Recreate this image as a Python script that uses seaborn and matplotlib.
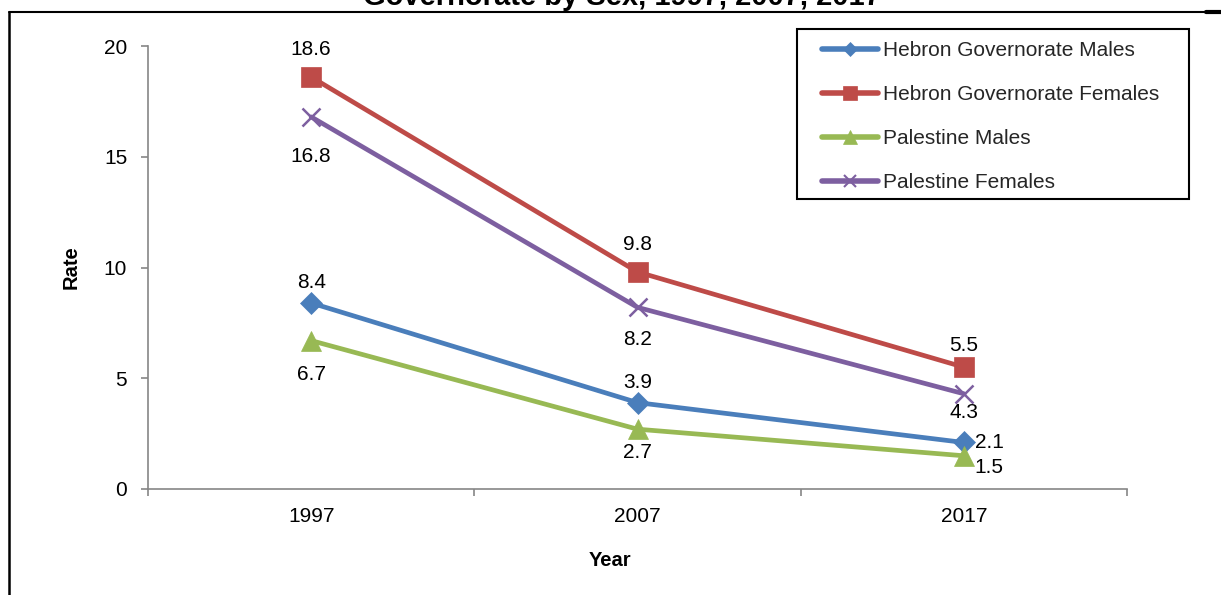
import matplotlib
matplotlib.use('Agg')
import matplotlib.pyplot as plt
import seaborn as sns
import pandas as pd
from matplotlib.lines import Line2D
from matplotlib.patches import Rectangle

# ---- data ----
years = ['1997', '2007', '2017']
series_names = ['Hebron Governorate Males', 'Hebron Governorate Females',
                'Palestine Males', 'Palestine Females']
hebron_males = [8.4, 3.9, 2.1]
hebron_females = [18.6, 9.8, 5.5]
palestine_males = [6.7, 2.7, 1.5]
palestine_females = [16.8, 8.2, 4.3]
y_ticks = [0, 5, 10, 15, 20]
title_text = 'Governorate by Sex, 1997, 2007, 2017'

all_values = [hebron_males, hebron_females, palestine_males, palestine_females]

# ---- styles ----
colors = ['#4A7EBB', '#BE4B48', '#98B954', '#7D5FA0']
markers = ['D', 's', '^', 'x']
msizes = [11, 14.5, 15, 12.5]
leg_msizes = [7, 10, 10, 8]
# label offsets in pixels per point (dx, dy, ha)
label_offsets = [
    [(0, 20, 'center'), (0, 20, 'center'), (11, 0, 'left')],
    [(0, 28, 'center'), (0, 27, 'center'), (0, 22, 'center')],
    [(0, -34, 'center'), (0, -23, 'center'), (11, -12, 'left')],
    [(0, -40, 'center'), (0, -32, 'center'), (0, -19, 'center')],
]

sns.set_theme(style='white')
plt.rcParams['font.family'] = ['Liberation Sans', 'DejaVu Sans']

W, H = 1221, 595
fig = plt.figure(figsize=(W / 100, H / 100), dpi=100)
fig.patch.set_facecolor('white')
ax = fig.add_axes([148 / W, 106 / H, 979 / W, 443 / H])

rows = []
for name, vals in zip(series_names, all_values):
    for yr, v in zip(years, vals):
        rows.append({'Year': yr, 'Rate': v, 'Series': name})
df = pd.DataFrame(rows)

for i, name in enumerate(series_names):
    sub = df[df['Series'] == name]
    kw = dict(markeredgecolor=colors[i])
    if markers[i] == 'x':
        kw['markeredgewidth'] = 1.8
    else:
        kw['markeredgewidth'] = 0.5
    sns.lineplot(data=sub, x='Year', y='Rate', ax=ax, color=colors[i],
                 marker=markers[i], markersize=msizes[i], linewidth=3.4,
                 legend=False, sort=False, zorder=3 + i, **kw)

# data labels
for i, vals in enumerate(all_values):
    for j, v in enumerate(vals):
        dx, dy, ha = label_offsets[i][j]
        ax.annotate(f'{v:.1f}', (j, v), xytext=(dx, dy), textcoords='offset pixels',
                    ha=ha, va='center', fontsize=15, color='black', zorder=10)

ax.set_xlim(-0.5, 2.5)
ax.set_ylim(0, 20)
ax.set_yticks(y_ticks)
ax.set_yticklabels([str(t) for t in y_ticks])
ax.set_xticks(range(len(years)))
ax.set_xticklabels(years)
ax.set_xticks([-0.5, 0.5, 1.5, 2.5], minor=True)

for s in ['top', 'right']:
    ax.spines[s].set_visible(False)
for s in ['left', 'bottom']:
    ax.spines[s].set_color('#868686')
    ax.spines[s].set_linewidth(1.2)

ax.tick_params(axis='x', which='major', bottom=True, length=0, pad=13, labelsize=15, labelcolor='black')
ax.tick_params(axis='x', which='minor', bottom=True, length=5, width=1.2, color='#868686', direction='out')
ax.tick_params(axis='y', which='major', left=True, length=5, width=1.2, color='#868686', direction='out', pad=10, labelsize=15, labelcolor='black')

ax.set_xlabel('Year', fontsize=14.5, fontweight='bold', color='black')
ax.set_ylabel('Rate', fontsize=14.5, fontweight='bold', color='black')
ax.xaxis.set_label_coords((610 - 148) / 979, (489 - 561) / 443)
ax.yaxis.set_label_coords((71 - 148) / 979, 0.5)
ax.xaxis.label.set_va('center')
ax.yaxis.label.set_va('center')
ax.grid(False)

# legend (frameless, with frame drawn separately)
handles = [Line2D([], [], color=colors[i], marker=markers[i], markersize=leg_msizes[i],
                  linewidth=4, markeredgecolor=colors[i],
                  markeredgewidth=1.5 if markers[i] == 'x' else 0.5)
           for i in range(len(series_names))]
leg = fig.legend(handles, series_names, loc='upper left',
                 bbox_to_anchor=(822 / W, 1 - 41 / H), frameon=False,
                 fontsize=15, handlelength=2.7, handletextpad=0.25,
                 labelspacing=1.2, borderpad=0, borderaxespad=0, numpoints=1)
fig.patches.append(Rectangle((797 / W, 1 - 199 / H), (1189 - 797) / W, (199 - 29) / H,
                             transform=fig.transFigure, fill=False, edgecolor='black',
                             linewidth=1.5, zorder=20))

# outer border lines
fig.add_artist(Line2D([9 / W, 9 / W], [0, 1 - 12 / H], transform=fig.transFigure, color='black', linewidth=1.8))
fig.add_artist(Line2D([9 / W, 1], [1 - 12 / H, 1 - 12 / H], transform=fig.transFigure, color='black', linewidth=1.5))
fig.add_artist(Line2D([1206 / W, 1], [1 - 12 / H, 1 - 12 / H], transform=fig.transFigure, color='black', linewidth=3))

# title (cut off at the top, as in the reference)
fig.text(622 / W, 1 - 5 / H, title_text, ha='center', va='baseline',
         fontsize=21, fontweight='bold', color='black')

fig.savefig('out.png', dpi=100, facecolor='white')
